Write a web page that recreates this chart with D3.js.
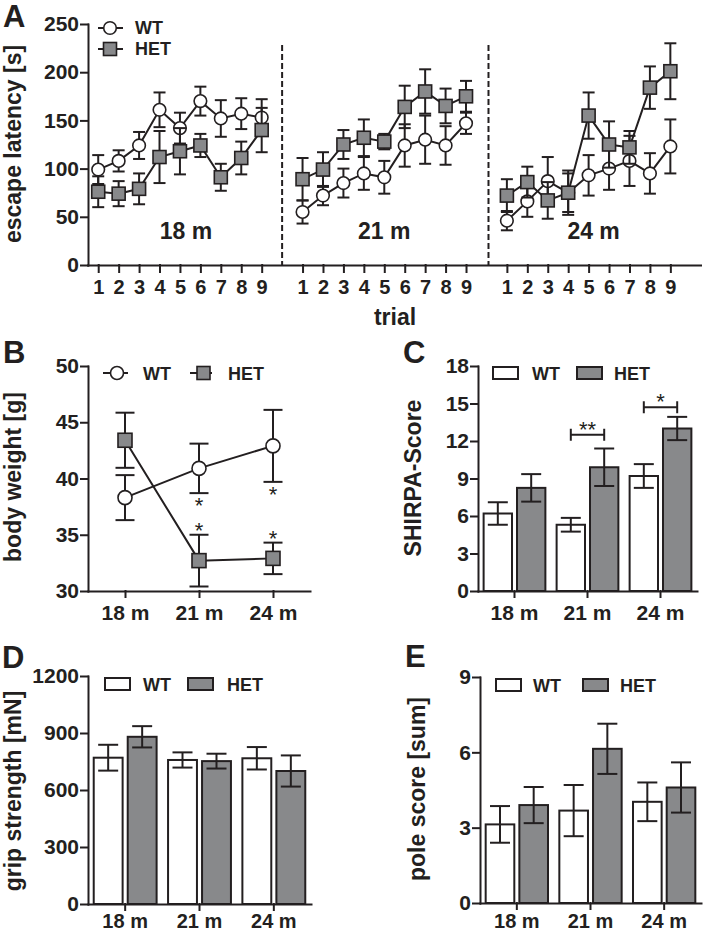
<!DOCTYPE html>
<html><head><meta charset="utf-8">
<script src="https://cdn.jsdelivr.net/npm/d3@7"></script>
<style>
body{margin:0;background:#fff;}
svg{display:block;font-family:"Liberation Sans",Arial,Helvetica,sans-serif;font-weight:bold;}
</style></head><body>
<svg id="c" width="703" height="932"></svg>
<script>
// ---------------- DATA ----------------
const trials = [1,2,3,4,5,6,7,8,9];
const ages = ["18 m","21 m","24 m"];
const series = ["WT","HET"];

// Panel A: escape latency [s] per trial
const wtLat18  = [99,108,124,161,142,170,152,157,153];
const wtErr18  = [15,11,14,18,16,15,19,16,19];
const hetLat18 = [76,74,79,112,118,124,91,111,140];
const hetErr18 = [16,13,16,27,24,12,14,17,23];
const wtLat21  = [55,72,85,95,91,124,130,124,147];
const wtErr21  = [12,10,15,17,17,22,25,20,11];
const hetLat21 = [89,99,125,132,128,164,180,165,175];
const hetErr21 = [22,18,15,19,8,22,23,18,16];
const wtLat24  = [46,66,87,75,93,100,108,95,123];
const wtErr24  = [10,16,25,23,21,22,26,21,28];
const hetLat24 = [72,86,67,75,155,125,122,184,201];
const hetErr24 = [17,16,19,20,24,24,17,22,29];
const latencyTicks = [0,50,100,150,200,250];

// Panel B: body weight [g]
const wtWeight = [38.3,40.9,42.9];
const wtWeightErr = [2.0,2.2,3.2];
const hetWeight = [43.4,32.7,32.9];
const hetWeightErr = [2.45,2.3,1.4];
const weightTicks = [30,35,40,45,50];
const weightStarsWT = ["", "*", "*"];
const weightStarsHET = ["", "*", "*"];

// Panel C: SHIRPA-Score
const wtShirpa = [6.2,5.3,9.2];
const wtShirpaErr = [0.9,0.55,0.95];
const hetShirpa = [8.25,9.9,13.0];
const hetShirpaErr = [1.1,1.5,0.93];
const shirpaTicks = [0,3,6,9,12,15,18];
const shirpaSigAges = ["21 m","24 m"];
const shirpaSigLevel = [12.5,14.7];
const shirpaSigLabel = ["**","*"];

// Panel D: grip strength [mN]
const wtGrip = [770,758,767];
const wtGripErr = [68,40,59];
const hetGrip = [880,752,700];
const hetGripErr = [56,39,82];
const gripTicks = [0,300,600,900,1200];

// Panel E: pole score [sum]
const wtPole = [3.13,3.68,4.03];
const wtPoleErr = [0.73,1.02,0.77];
const hetPole = [3.9,6.14,4.6];
const hetPoleErr = [0.72,1.0,1.0];
const poleTicks = [0,3,6,9];

// ---------------- STYLE ----------------
const ink = "#231f20", gray = "#88898b";
const svg = d3.select("#c");
const fmt = d3.format("d");

function styleAxis(g, fs){
  g.attr("font-family", null).attr("font-size", null);
  g.selectAll("path,line").attr("stroke", ink).attr("stroke-width", 2).attr("stroke-linecap","square");
  g.selectAll("text").attr("fill", ink).style("font-size", fs + "px").style("font-weight", "bold");
}
function txt(x, y, s, fs, anchor){
  return svg.append("text").attr("x", x).attr("y", y).attr("fill", ink)
    .attr("font-size", fs).attr("text-anchor", anchor || "start").text(s);
}
function ylabel(x, y, s){
  svg.append("text").attr("transform", `translate(${x},${y}) rotate(-90)`)
    .attr("text-anchor","middle").attr("fill", ink).attr("font-size", 23).text(s);
}
function errBar(g, x, y0, y1, cap){
  g.append("line").attr("x1",x).attr("x2",x).attr("y1",y0).attr("y2",y1);
  g.append("line").attr("x1",x-cap/2).attr("x2",x+cap/2).attr("y1",y0).attr("y2",y0);
  g.append("line").attr("x1",x-cap/2).attr("x2",x+cap/2).attr("y1",y1).attr("y2",y1);
}

// ---------------- PANEL A ----------------
const xA = d3.scaleLinear().domain([-0.5, 29.5]).range([88, 701]);
const yA = d3.scaleLinear().domain([0, 250]).range([265, 24]);
const idx = (gi, t) => gi * 10 + (t - 1);
const allIdx = [];
ages.forEach((a, gi) => trials.forEach(t => allIdx.push(idx(gi, t))));

// dashed separators
[9, 19.1].forEach(s => {
  svg.append("line").attr("x1", xA(s)).attr("x2", xA(s)).attr("y1", 45).attr("y2", yA(0))
    .attr("stroke", ink).attr("stroke-width", 2).attr("stroke-dasharray", "6,3");
});

const axAy = svg.append("g").attr("transform","translate(88,0)")
  .call(d3.axisLeft(yA).tickValues(latencyTicks).tickFormat(fmt).tickSize(7).tickPadding(2).tickSizeOuter(0));
styleAxis(axAy, 21);
const axAx = svg.append("g").attr("transform",`translate(0,${yA(0)})`)
  .call(d3.axisBottom(xA).tickValues(allIdx).tickFormat(i => trials[i % 10]).tickSize(7).tickPadding(8).tickSizeOuter(0));
styleAxis(axAx, 20);
axAx.select(".domain").attr("d", `M88,0.5H701`);

const latWT = [wtLat18, wtLat21, wtLat24], latWTe = [wtErr18, wtErr21, wtErr24];
const latHET = [hetLat18, hetLat21, hetLat24], latHETe = [hetErr18, hetErr21, hetErr24];

function drawLatency(vals, errs, kind){
  const g = svg.append("g").attr("stroke", ink).attr("stroke-width", 2);
  vals.forEach((arr, gi) => {
    const pts = arr.map((v, k) => ({x: xA(idx(gi, k+1)), y: yA(v), lo: yA(v - errs[gi][k]), hi: yA(v + errs[gi][k])}));
    pts.forEach(p => errBar(g, p.x, p.lo, p.hi, 12));
    g.append("path").attr("fill","none").attr("d", d3.line().x(p=>p.x).y(p=>p.y)(pts));
    pts.forEach(p => {
      if (kind === "WT") g.append("circle").attr("cx",p.x).attr("cy",p.y).attr("r",6.3).attr("fill","#fff").attr("stroke-width",1.6);
      else g.append("rect").attr("x",p.x-6.5).attr("y",p.y-6.5).attr("width",13).attr("height",13).attr("fill",gray).attr("stroke-width",1.6);
    });
  });
}
drawLatency(latWT, latWTe, "WT");
drawLatency(latHET, latHETe, "HET");

// legend A
(function(){
  const g = svg.append("g").attr("stroke", ink).attr("stroke-width", 2);
  g.append("line").attr("x1",98).attr("x2",123).attr("y1",28).attr("y2",28);
  g.append("circle").attr("cx",110).attr("cy",28).attr("r",6.3).attr("fill","#fff").attr("stroke-width",1.6);
  g.append("line").attr("x1",98).attr("x2",123).attr("y1",49).attr("y2",49);
  g.append("rect").attr("x",103.5).attr("y",42.5).attr("width",13).attr("height",13).attr("fill",gray).attr("stroke-width",1.6);
  txt(135, 34, series[0], 18);
  txt(135, 55, series[1], 18);
})();

// group labels & titles
const groupNudge = [6, 0, 5];
ages.forEach((a, gi) => txt(xA(idx(gi, 5)) + groupNudge[gi], 239, a, 23, "middle"));
txt(395, 325, "trial", 23, "middle");
ylabel(20.5, 144, "escape latency [s]");
txt(3, 27, "A", 31);

// ---------------- PANEL B ----------------
const xB = d3.scalePoint().domain(ages).range([88, 310]).padding(0.5);
const yB = d3.scaleLinear().domain([30, 50]).range([591, 366]);
const axBy = svg.append("g").attr("transform","translate(88,0)")
  .call(d3.axisLeft(yB).tickValues(weightTicks).tickFormat(fmt).tickSize(7).tickPadding(2).tickSizeOuter(0));
styleAxis(axBy, 21);
const axBx = svg.append("g").attr("transform",`translate(0,591)`)
  .call(d3.axisBottom(xB).tickSize(6).tickPadding(8).tickSizeOuter(0));
styleAxis(axBx, 21);

function drawWeight(vals, errs, kind){
  const g = svg.append("g").attr("stroke", ink).attr("stroke-width", 2);
  const pts = vals.map((v, k) => ({x: xB(ages[k]), y: yB(v), lo: yB(v - errs[k]), hi: yB(v + errs[k])}));
  pts.forEach(p => errBar(g, p.x, p.lo, p.hi, 19));
  g.append("path").attr("fill","none").attr("d", d3.line().x(p=>p.x).y(p=>p.y)(pts));
  pts.forEach(p => {
    if (kind === "WT") g.append("circle").attr("cx",p.x).attr("cy",p.y).attr("r",7).attr("fill","#fff").attr("stroke-width",1.6);
    else g.append("rect").attr("x",p.x-7).attr("y",p.y-7).attr("width",14).attr("height",14).attr("fill",gray).attr("stroke-width",1.6);
  });
  return pts;
}
const ptsWT = drawWeight(wtWeight, wtWeightErr, "WT");
const ptsHET = drawWeight(hetWeight, hetWeightErr, "HET");
ptsWT.forEach((p, k) => { if (weightStarsWT[k]) txt(p.x, p.lo + 20, weightStarsWT[k], 22, "middle").attr("font-weight","normal"); });
ptsHET.forEach((p, k) => { if (weightStarsHET[k]) txt(p.x, p.hi + 3, weightStarsHET[k], 22, "middle").attr("font-weight","normal"); });

(function(){
  const g = svg.append("g").attr("stroke", ink).attr("stroke-width", 2);
  g.append("line").attr("x1",103).attr("x2",128).attr("y1",373).attr("y2",373);
  g.append("circle").attr("cx",117).attr("cy",373).attr("r",6.5).attr("fill","#fff").attr("stroke-width",1.6);
  g.append("line").attr("x1",190).attr("x2",212).attr("y1",373).attr("y2",373);
  g.append("rect").attr("x",197).attr("y",366.5).attr("width",13).attr("height",13).attr("fill",gray).attr("stroke-width",1.6);
  txt(143, 380, series[0], 18);
  txt(228, 380, series[1], 18);
})();
ylabel(20.5, 477, "body weight [g]");
txt(3, 363, "B", 31);

// ---------------- BAR PANELS ----------------
function barPanel(o){
  const x = d3.scaleBand().domain(ages).range([o.left, o.right]).padding(0);
  const sub = d3.scaleBand().domain(series).range([x.bandwidth()*0.077, x.bandwidth()*0.923]).paddingInner(0.15);
  const y = d3.scaleLinear().domain([0, o.ticks[o.ticks.length-1]]).range([o.bottom, o.top]);
  const data = [o.wt, o.het], errs = [o.wtErr, o.hetErr];
  const g = svg.append("g").attr("stroke", ink).attr("stroke-width", 2);
  series.forEach((s, si) => {
    ages.forEach((a, k) => {
      const v = data[si][k];
      g.append("rect").attr("x", x(a) + sub(s)).attr("width", sub.bandwidth())
        .attr("y", y(v)).attr("height", y(0) - y(v)).attr("fill", si === 0 ? "#fff" : gray);
    });
  });
  series.forEach((s, si) => {
    ages.forEach((a, k) => {
      const v = data[si][k], e = errs[si][k];
      const cx = x(a) + sub(s) + sub.bandwidth()/2;
      errBar(g, cx, y(v - e), y(v + e), 20);
    });
  });
  const ay = svg.append("g").attr("transform",`translate(${o.left},0)`)
    .call(d3.axisLeft(y).tickValues(o.ticks).tickFormat(fmt).tickSize(7).tickPadding(2).tickSizeOuter(0));
  styleAxis(ay, 21);
  const ax = svg.append("g").attr("transform",`translate(0,${o.bottom})`)
    .call(d3.axisBottom(x).tickSize(6).tickPadding(o.xpad).tickSizeOuter(0));
  styleAxis(ax, o.xfs || 21);
  // legend
  const lg = svg.append("g").attr("stroke", ink).attr("stroke-width", 2);
  lg.append("rect").attr("x", o.leg[0]).attr("y", o.legY - 6).attr("width", 25).attr("height", 12).attr("fill","#fff");
  lg.append("rect").attr("x", o.leg[2]).attr("y", o.legY - 6).attr("width", 25).attr("height", 12).attr("fill",gray);
  txt(o.leg[1], o.legY + 7, series[0], 18);
  txt(o.leg[3], o.legY + 7, series[1], 18);
  return {x, sub, y};
}

// C
const C = barPanel({left:478, right:697, top:366, bottom:591, ticks:shirpaTicks,
  wt:wtShirpa, wtErr:wtShirpaErr, het:hetShirpa, hetErr:hetShirpaErr, xpad:8,
  leg:[493, 532, 577, 614], legY:373});
shirpaSigAges.forEach((a, i) => {
  const x1 = C.x(a) + C.sub("WT") + C.sub.bandwidth()/2;
  const x2 = C.x(a) + C.sub("HET") + C.sub.bandwidth()/2;
  const yy = C.y(shirpaSigLevel[i]);
  const g = svg.append("g").attr("stroke", ink).attr("stroke-width", 2);
  g.append("line").attr("x1", x1).attr("x2", x2).attr("y1", yy).attr("y2", yy);
  g.append("line").attr("x1", x1).attr("x2", x1).attr("y1", yy-6).attr("y2", yy+6);
  g.append("line").attr("x1", x2).attr("x2", x2).attr("y1", yy-6).attr("y2", yy+6);
  txt((x1+x2)/2, yy + 2, shirpaSigLabel[i], 22, "middle").attr("font-weight","normal");
});
ylabel(421, 478, "SHIRPA-Score");
txt(403, 363, "C", 31);

// D
barPanel({left:88, right:311, top:676, bottom:904, ticks:gripTicks,
  wt:wtGrip, wtErr:wtGripErr, het:hetGrip, hetErr:hetGripErr, xpad:4, xfs:20,
  leg:[105, 143, 188, 227], legY:684});
ylabel(20.5, 791, "grip strength [mN]");
txt(2, 668, "D", 31);

// E
barPanel({left:480, right:701, top:677, bottom:903, ticks:poleTicks,
  wt:wtPole, wtErr:wtPoleErr, het:hetPole, hetErr:hetPoleErr, xpad:5, xfs:20,
  leg:[496, 533, 583, 620], legY:685});
ylabel(425, 789, "pole score [sum]");
txt(405, 667, "E", 31);
</script>
</body></html>
